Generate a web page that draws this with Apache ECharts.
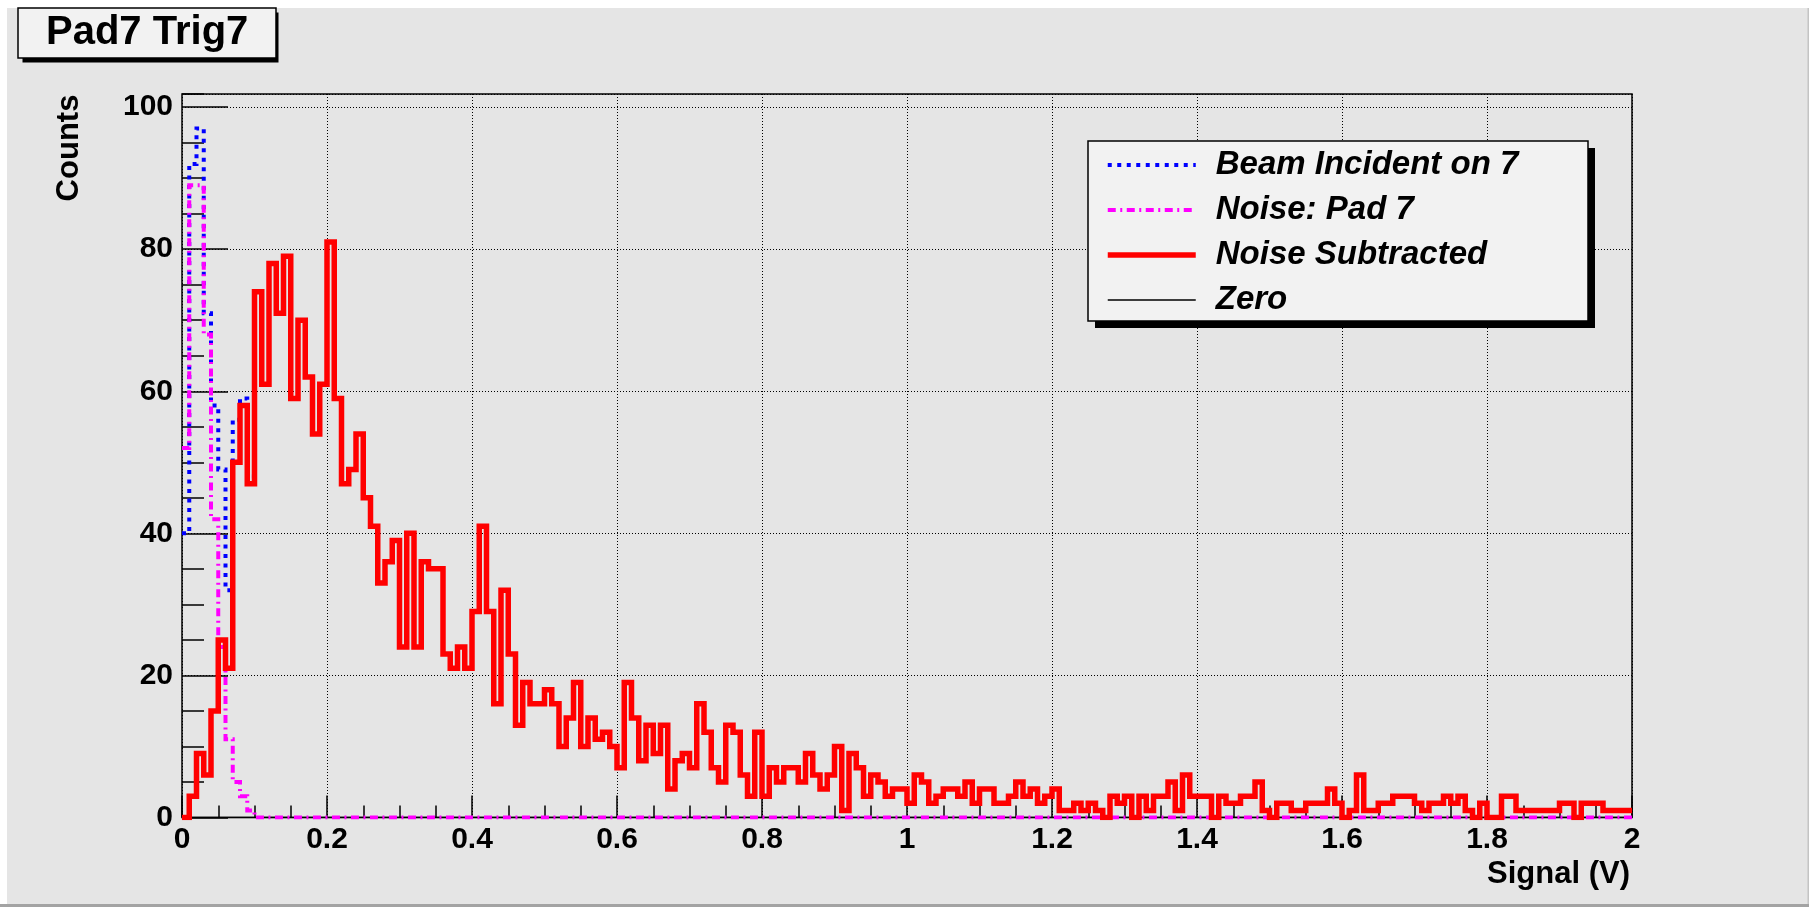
<!DOCTYPE html>
<html>
<head>
<meta charset="utf-8">
<title>Pad7 Trig7</title>
<script src="https://cdn.jsdelivr.net/npm/echarts@6/dist/echarts.min.js"></script>
<style>
  html, body { margin: 0; padding: 0; background: #ffffff; }
  #chart { width: 1809px; height: 907px; }
</style>
</head>
<body>
<div id="chart"></div>
<script>
// Histogram binning: 200 bins of 0.01 V from 0 to 2 V
const binWidth = 0.01;
const xMin = 0;
const xMax = 2;
const yMax = 101.85;

const seriesNames = ['Beam Incident on 7', 'Noise: Pad 7', 'Noise Subtracted', 'Zero'];

// Beam histogram (visible part; above 0.12 V it lies under the subtracted curve)
const beamIncident = [40, 92, 97, 71, 58, 49, 32, 56, 59, 48, 74, 61];

// Noise histogram for pad 7
const noisePad7 = [
  52, 89, 89, 68, 42, 24, 11, 5, 3, 1,
  0, 0, 0, 0, 0, 0, 0, 0, 0, 0,
  0, 0, 0, 0, 0, 0, 0, 0, 0, 0,
  0, 0, 0, 0, 0, 0, 0, 0, 0, 0,
  0, 0, 0, 0, 0, 0, 0, 0, 0, 0,
  0, 0, 0, 0, 0, 0, 0, 0, 0, 0,
  0, 0, 0, 0, 0, 0, 0, 0, 0, 0,
  0, 0, 0, 0, 0, 0, 0, 0, 0, 0,
  0, 0, 0, 0, 0, 0, 0, 0, 0, 0,
  0, 0, 0, 0, 0, 0, 0, 0, 0, 0,
  0, 0, 0, 0, 0, 0, 0, 0, 0, 0,
  0, 0, 0, 0, 0, 0, 0, 0, 0, 0,
  0, 0, 0, 0, 0, 0, 0, 0, 0, 0,
  0, 0, 0, 0, 0, 0, 0, 0, 0, 0,
  0, 0, 0, 0, 0, 0, 0, 0, 0, 0,
  0, 0, 0, 0, 0, 0, 0, 0, 0, 0,
  0, 0, 0, 0, 0, 0, 0, 0, 0, 0,
  0, 0, 0, 0, 0, 0, 0, 0, 0, 0,
  0, 0, 0, 0, 0, 0, 0, 0, 0, 0,
  0, 0, 0, 0, 0, 0, 0, 0, 0, 0
];

// Beam minus noise
const noiseSubtracted = [
  0, 3, 9, 6, 15, 25, 21, 50, 58, 47,
  74, 61, 78, 71, 79, 59, 70, 62, 54, 61,
  81, 59, 47, 49, 54, 45, 41, 33, 36, 39,
  24, 40, 24, 36, 35, 35, 23, 21, 24, 21,
  29, 41, 29, 16, 32, 23, 13, 19, 16, 16,
  18, 16, 10, 14, 19, 10, 14, 11, 12, 10,
  7, 19, 14, 8, 13, 9, 13, 4, 8, 9,
  7, 16, 12, 7, 5, 13, 12, 6, 3, 12,
  3, 7, 5, 7, 7, 5, 9, 6, 4, 6,
  10, 1, 9, 7, 3, 6, 5, 3, 4, 4,
  2, 6, 5, 2, 3, 4, 4, 3, 5, 2,
  4, 4, 2, 2, 3, 5, 3, 4, 2, 3,
  4, 1, 1, 2, 1, 2, 1, 0, 3, 2,
  3, 0, 3, 1, 3, 3, 5, 1, 6, 3,
  3, 3, 0, 3, 2, 2, 3, 3, 5, 1,
  0, 2, 2, 1, 1, 2, 2, 2, 4, 2,
  0, 1, 6, 1, 1, 2, 2, 3, 3, 3,
  2, 1, 2, 2, 3, 2, 3, 1, 0, 2,
  0, 0, 3, 3, 1, 1, 1, 1, 1, 1,
  2, 2, 0, 2, 2, 2, 1, 1, 1, 1
];

const zeroLevel = [0, 0];

// Turn bin contents into the outline of a histogram (flat top per bin)
function histOutline(counts) {
  const pts = [];
  counts.forEach(function (v, i) {
    const x0 = +(xMin + i * binWidth).toFixed(4);
    const x1 = +(xMin + (i + 1) * binWidth).toFixed(4);
    pts.push([x0, v], [x1, v]);
  });
  return pts;
}

const FONT = '"Liberation Sans", Arial, Helvetica, sans-serif';
const tickStyle = { color: '#000', width: 1.5 };

const chart = echarts.init(document.getElementById('chart'), null, { renderer: 'canvas' });

const option = {
  backgroundColor: '#ffffff',
  animation: false,
  title: {
    text: 'Pad7 Trig7',
    left: 18,
    top: 8,
    padding: [5, 28, 5, 28],
    backgroundColor: '#f2f2f2',
    borderColor: '#000',
    borderWidth: 1.5,
    z: 12,
    textStyle: { fontFamily: FONT, fontSize: 40, fontWeight: 'bold', color: '#000', lineHeight: 40 }
  },
  legend: {
    data: seriesNames,
    orient: 'vertical',
    left: 1105,
    top: 147,
    padding: 0,
    itemGap: 9,
    itemWidth: 88,
    itemHeight: 14,
    selectedMode: false,
    z: 10,
    itemStyle: { opacity: 0 },
    lineStyle: { width: 'inherit', type: 'inherit' },
    textStyle: {
      fontFamily: FONT, fontSize: 33, fontWeight: 'bold', fontStyle: 'italic',
      color: '#000', lineHeight: 36, padding: [0, 0, 0, 15]
    }
  },
  grid: {
    left: 182,
    right: 177,
    top: 94,
    bottom: 89.5,
    show: true,
    backgroundColor: 'transparent',
    borderColor: '#000',
    borderWidth: 1.5
  },
  xAxis: [
    {
      type: 'value', min: xMin, max: xMax, interval: 0.2, position: 'bottom',
      axisLine: { show: false },
      axisTick: { show: true, inside: true, length: 22, lineStyle: tickStyle },
      axisLabel: { margin: 7, fontFamily: FONT, fontSize: 30, fontWeight: 'bold', color: '#000' },
      splitLine: { show: true, lineStyle: { color: '#000', width: 1, type: [1, 2] } }
    },
    {
      type: 'value', min: xMin, max: xMax, interval: 0.05, position: 'bottom',
      axisLine: { show: false },
      axisTick: { show: true, inside: true, length: 12, lineStyle: tickStyle },
      axisLabel: { show: false },
      splitLine: { show: false }
    }
  ],
  yAxis: [
    {
      type: 'value', min: 0, max: yMax, interval: 20, position: 'left',
      axisLine: { show: false },
      axisTick: { show: true, inside: true, length: 46, lineStyle: tickStyle },
      axisLabel: { margin: 9, showMaxLabel: false, fontFamily: FONT, fontSize: 30, fontWeight: 'bold', color: '#000' },
      splitLine: { show: true, lineStyle: { color: '#000', width: 1, type: [1, 2] } }
    },
    {
      type: 'value', min: 0, max: yMax, interval: 5, position: 'left',
      axisLine: { show: false },
      axisTick: { show: true, inside: true, length: 22, lineStyle: tickStyle },
      axisLabel: { show: false },
      splitLine: { show: false }
    }
  ],
  graphic: [
    { type: 'rect', z: -10, shape: { x: 7, y: 8, width: 1802, height: 896 }, style: { fill: '#e5e5e5' } },
    { type: 'rect', z: -9, shape: { x: 0, y: 904, width: 1809, height: 3 }, style: { fill: '#a3a3a3' } },
    { type: 'rect', z: -9, shape: { x: 1807.5, y: 8, width: 1.5, height: 896 }, style: { fill: '#c4c4c4' } },
    // title box shadow
    { type: 'rect', z: 11, shape: { x: 22.5, y: 12.5, width: 256, height: 50 }, style: { fill: '#000' } },
    // legend box with its shadow
    { type: 'rect', z: 8, shape: { x: 1095, y: 148, width: 500, height: 180 }, style: { fill: '#000' } },
    { type: 'rect', z: 9, shape: { x: 1088, y: 141, width: 500, height: 180 }, style: { fill: '#f2f2f2', stroke: '#000', lineWidth: 1.5 } },
    // axis titles
    {
      type: 'text', z: 6, x: 69, y: 148, rotation: Math.PI / 2,
      style: { text: 'Counts', fill: '#000', font: 'bold 31px ' + FONT, textAlign: 'center', textVerticalAlign: 'middle' }
    },
    {
      type: 'text', z: 6, x: 1630, y: 874,
      style: { text: 'Signal (V)', fill: '#000', font: 'bold 31px ' + FONT, textAlign: 'right', textVerticalAlign: 'middle' }
    }
  ],
  series: [
    {
      name: seriesNames[0], type: 'line', data: histOutline(beamIncident),
      symbol: 'none', silent: true, z: 3,
      itemStyle: { color: '#0000ff' },
      lineStyle: { color: '#0000ff', width: 4, type: [4, 5.5], cap: 'butt', join: 'miter' }
    },
    {
      name: seriesNames[1], type: 'line', data: histOutline(noisePad7),
      symbol: 'none', silent: true, z: 4,
      itemStyle: { color: '#ff00ff' },
      lineStyle: { color: '#ff00ff', width: 4, type: [8, 4.5, 2, 4.5], cap: 'butt', join: 'miter' }
    },
    {
      name: seriesNames[2], type: 'line', data: histOutline(noiseSubtracted),
      symbol: 'none', silent: true, z: 5,
      itemStyle: { color: '#ff0000' },
      lineStyle: { color: '#ff0000', width: 5.5, cap: 'butt', join: 'miter' }
    },
    {
      name: seriesNames[3], type: 'line', data: [[xMin, zeroLevel[0]], [xMax, zeroLevel[1]]],
      symbol: 'none', silent: true, z: 2,
      itemStyle: { color: '#000' },
      lineStyle: { color: '#000', width: 1.5 }
    }
  ]
};

chart.setOption(option);
</script>
</body>
</html>
